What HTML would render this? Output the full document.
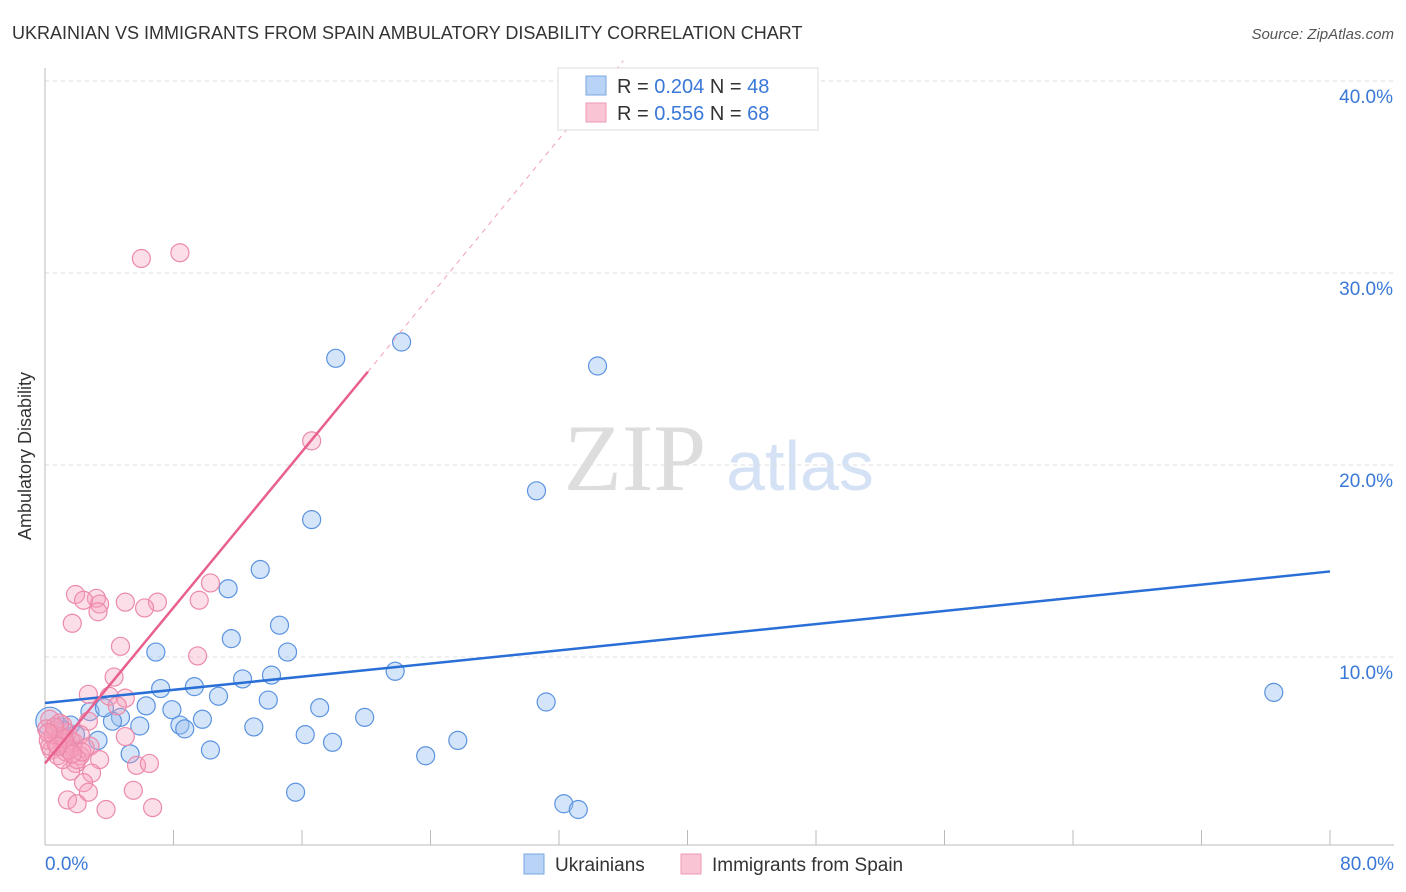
<!DOCTYPE html>
<html><head><meta charset="utf-8"><style>
body{margin:0;background:#fff;font-family:"Liberation Sans",sans-serif}
</style></head><body>
<svg id="c" width="1406" height="892" style="display:block">
<text x="12" y="39" font-size="18" fill="#333">UKRAINIAN VS IMMIGRANTS FROM SPAIN AMBULATORY DISABILITY CORRELATION CHART</text>
<text x="1394" y="39" font-size="15" fill="#555" font-style="italic" text-anchor="end">Source: ZipAtlas.com</text>
<text x="31" y="456" font-size="18" fill="#333" text-anchor="middle" transform="rotate(-90 31 456)">Ambulatory Disability</text>
<text x="635" y="490" font-size="95" fill="#ddd" font-family="Liberation Serif" text-anchor="middle">ZIP</text>
<text x="800" y="490" font-size="70" fill="#d5e2f5" text-anchor="middle">atlas</text>
<g id="grid"></g><g id="axes"></g><g id="pts"></g><g id="lines"></g>
<g>
<rect x="558" y="68" width="260" height="62" fill="#fff" stroke="#ddd"/>
<rect x="586" y="76" width="20" height="19" fill="#b8d3f5" stroke="#7aa7e0"/>
<rect x="586" y="103" width="20" height="19" fill="#f9c4d4" stroke="#ef9ab5"/>
<text x="617" y="93" font-size="20" fill="#333">R = <tspan fill="#3a78d8">0.204</tspan>   N = <tspan fill="#3a78d8">48</tspan></text>
<text x="617" y="120" font-size="20" fill="#333">R = <tspan fill="#3a78d8">0.556</tspan>   N = <tspan fill="#3a78d8">68</tspan></text>
</g>
<g>
<rect x="524" y="854" width="20" height="20" fill="#b8d3f5" stroke="#7aa7e0"/>
<text x="555" y="871" font-size="19" fill="#333">Ukrainians</text>
<rect x="681" y="854" width="20" height="20" fill="#f9c4d4" stroke="#ef9ab5"/>
<text x="712" y="871" font-size="19" fill="#333">Immigrants from Spain</text>
</g>
</svg>
<script>
const yTicks=[10,20,30,40];
const yTickLabels=["10.0%","20.0%","30.0%","40.0%"];
const xLabels=["0.0%","80.0%"];
const blueX=[18.1,22.2,34.4,30.6,16.6,13.4,11.4,14.6,11.6,6.9,15.1,21.8,12.3,14.1,7.2,9.3,13.9,10.8,6.3,7.9,17.1,31.2,19.9,9.8,8.4,8.7,4.7,5.9,4.2,2.8,16.2,17.9,25.7,3.3,10.3,5.3,23.7,13.0,15.6,32.3,33.2,76.5,1.6,0.9,0.3,1.9,1.2,3.7];
const blueY=[25.4,26.25,25.0,18.5,17.0,14.4,13.4,11.5,10.8,10.1,10.1,9.1,8.7,8.9,8.2,8.3,7.6,7.8,7.3,7.1,7.2,7.5,6.7,6.6,6.3,6.1,6.7,6.25,6.5,7.0,5.8,5.4,5.5,5.5,5.0,4.8,4.7,6.2,2.8,2.2,1.9,8.0,6.3,6.2,6.5,5.8,6.0,7.2];
const pinkX=[6.0,8.4,16.6,10.3,1.9,3.2,2.4,3.4,5.0,7.0,6.2,9.6,3.3,1.7,4.7,9.5,4.3,2.7,4.0,5.0,4.5,2.7,5.0,2.8,1.7,2.2,3.4,5.7,6.5,1.9,2.9,1.6,2.4,2.7,5.5,1.4,2.0,3.8,6.7,0.3,0.6,0.2,0.9,1.2,0.4,0.8,1.6,1.1,1.4,0.7,1.8,2.2,1.3,0.1,2.5,2.0,1.1,0.5,0.9,1.5,0.3,1.0,2.3,0.6,1.7,0.2,1.2,0.8];
const pinkY=[30.6,30.9,21.1,13.7,13.1,12.9,12.8,12.6,12.7,12.7,12.4,12.8,12.2,11.6,10.4,9.9,8.8,7.9,7.8,7.7,7.3,6.5,5.7,5.2,5.1,4.7,4.5,4.2,4.3,4.3,3.8,3.9,3.3,2.8,2.9,2.4,2.2,1.9,2.0,6.6,6.0,5.5,5.6,5.3,5.0,4.7,5.5,6.3,5.9,5.3,5.4,5.8,4.9,6.1,5.1,4.5,4.5,5.8,6.4,5.0,5.2,5.7,4.9,6.2,4.8,5.9,5.6,5.2];
const blueTrend=[[0,7.45],[80,14.3]];
const pinkTrend=[[0,4.3],[20.1,24.7]];
const pinkDash=[[20.1,24.7],[36,40.9]];
const X=v=>45+v/80*1285, Y=v=>846-v*19.2;
const NS="http://www.w3.org/2000/svg";
function mk(p,t,a){const e=document.createElementNS(NS,t);for(const k in a)e.setAttribute(k,a[k]);document.getElementById(p).appendChild(e);return e;}
yTicks.forEach((t,i)=>{
 let l=mk('grid','line',{x1:45,x2:1394,y1:Y(t)+3,y2:Y(t)+3,stroke:'#ddd','stroke-dasharray':'4,4'});
 
 
 let tx=mk('grid','text',{x:1393,y:Y(t)+25,'font-size':19,fill:'#3a78d8','text-anchor':'end'});tx.textContent=yTickLabels[i];
 
 
});
let ax=mk('axes','line',{x1:45,x2:45,y1:68,y2:845,stroke:'#bbb'});


let bx=mk('axes','line',{x1:45,x2:1394,y1:845,y2:845,stroke:'#bbb'});


for(let i=0;i<=10;i++){let t=mk('axes','line',{x1:X(i*8),x2:X(i*8),y1:830,y2:845,stroke:'#bbb'});
 
 }
[[0,'start',45],[80,'end',1394]].forEach((d,i)=>{let t=mk('axes','text',{x:d[2],y:870,'font-size':19,fill:'#3a78d8','text-anchor':d[1]});t.textContent=xLabels[i];
 
 });
blueX.forEach((v,i)=>{let c=mk('pts','circle',{cx:X(v),cy:Y(blueY[i]),r:(i==44?14:9),fill:'rgba(150,190,240,0.4)',stroke:'#5b93e0','stroke-width':1.2});
 
 });
pinkX.forEach((v,i)=>{let c=mk('pts','circle',{cx:X(v),cy:Y(pinkY[i]),r:9,fill:'rgba(245,160,190,0.35)',stroke:'#ec8aaa','stroke-width':1.2});
 
 });
let b=mk('lines','line',{x1:X(blueTrend[0][0]),y1:Y(blueTrend[0][1]),x2:X(blueTrend[1][0]),y2:Y(blueTrend[1][1]),stroke:'#2a6fd6','stroke-width':2.5});


let p=mk('lines','line',{x1:X(pinkTrend[0][0]),y1:Y(pinkTrend[0][1]),x2:X(pinkTrend[1][0]),y2:Y(pinkTrend[1][1]),stroke:'#e8608e','stroke-width':2.5});


let pd=mk('lines','line',{x1:X(pinkDash[0][0]),y1:Y(pinkDash[0][1]),x2:X(pinkDash[1][0]),y2:Y(pinkDash[1][1]),stroke:'#f0a0b8','stroke-width':1,'stroke-dasharray':'5,5'});


</script>
</body></html>
